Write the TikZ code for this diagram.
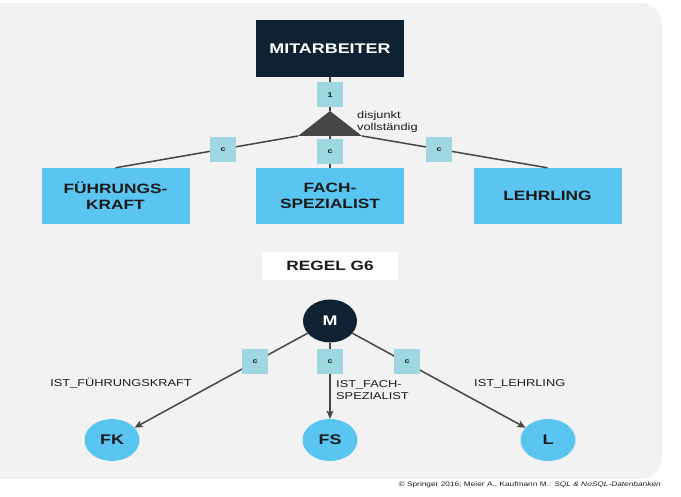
\documentclass[tikz,border=0pt]{standalone}
\usepackage{fontspec}
\setmainfont[FakeStretch=1.28]{Liberation Sans}
\usetikzlibrary{arrows.meta,shapes.geometric}
\definecolor{navy}{HTML}{0F2233}
\definecolor{skyblue}{HTML}{5BC5F2}
\definecolor{tealbox}{HTML}{9ED6E2}
\definecolor{panelgray}{HTML}{F2F2F2}
\definecolor{edge}{HTML}{454545}
\definecolor{ink}{HTML}{1A1A1A}
\tikzset{
  entity/.style={fill=skyblue,minimum width=148pt,minimum height=56pt,inner sep=0pt,align=center,font=\fontsize{13.5}{16}\selectfont\bfseries,text=ink},
  card/.style={fill=tealbox,minimum width=26pt,minimum height=25pt,inner sep=0pt,font=\fontsize{7}{9}\selectfont\bfseries,text=ink},
  tabnode/.style={ellipse,fill=skyblue,minimum width=55pt,minimum height=42pt,inner sep=0pt,font=\fontsize{14}{16}\selectfont\bfseries,text=ink},
  link/.style={edge,line width=1.5pt},
  linkarrow/.style={link,-{Stealth[length=8pt,width=7pt,inset=1.5pt]}},
  rolelabel/.style={font=\fontsize{10}{12}\selectfont,text=ink,inner sep=0pt,align=left}
}
\begin{document}
\begin{tikzpicture}[x=1pt,y=-1pt]
\useasboundingbox (0,0) rectangle (681,497);
\begin{scope}
\clip (0,0) rectangle (681,497);
\fill[panelgray,rounded corners=22pt] (-30,3) rectangle (662,479);
\end{scope}
% generalisation
\node[fill=navy,minimum width=148pt,minimum height=57pt,inner sep=0pt,text=white,font=\fontsize{14}{16}\selectfont\bfseries] (MA) at (330,48.5) {MITARBEITER};
\node[entity] (fuehrung) at (115.5,196) {FÜHRUNGS-\\KRAFT};
\node[entity] (fach) at (330,196) {FACH-\\SPEZIALIST};
\node[entity] (lehrling) at (547.5,196) {LEHRLING};
\coordinate (apex) at (330,111);
\coordinate (tl) at (298,136);
\coordinate (tm) at (330,136);
\coordinate (tr) at (362,136);
\draw[link] (MA) -- (apex);
\fill[edge] (apex) -- (tr) -- (tl) -- cycle;
\draw[link] (tl) -- (fuehrung.north);
\draw[link] (tm) -- (fach);
\draw[link] (tr) -- (lehrling.north);
\node[card] (c1) at (330,95) {1};
\node[card] (ca) at (223,150) {c};
\node[card] (cb) at (330,152) {c};
\node[card] (cc) at (439,150) {c};
\node[rolelabel,anchor=north west] (disj) at (357,111) {disjunkt\\vollständig};
% rule G6
\node[fill=white,minimum width=136pt,minimum height=28pt,inner sep=0pt,font=\fontsize{13.5}{16}\selectfont\bfseries,text=ink] (regel) at (330,266) {REGEL G6};
\node[ellipse,fill=navy,minimum width=54pt,minimum height=43pt,inner sep=0pt,text=white,font=\fontsize{14}{16}\selectfont\bfseries] (tabM) at (330,321) {M};
\node[tabnode] (tabFK) at (112,440) {FK};
\node[tabnode] (tabFS) at (330,440) {FS};
\node[tabnode] (tabL) at (548,440) {L};
\draw[linkarrow] (tabM) -- (tabFK);
\draw[linkarrow] (tabM) -- (tabFS);
\draw[linkarrow] (tabM) -- (tabL);
\node[card] (cFK) at (255,362) {c};
\node[card] (cFS) at (330,362) {c};
\node[card] (cL) at (407,362) {c};
\node[rolelabel,anchor=base east] (istFK) at (192,387) {IST\_FÜHRUNGSKRAFT};
\node[rolelabel,anchor=north west] (istFS) at (336,380) {IST\_FACH-\\SPEZIALIST};
\node[rolelabel,anchor=base west] (istL) at (474,387) {IST\_LEHRLING};
\node[anchor=base east,inner sep=0pt,font=\fontsize{6.5}{8}\selectfont,text=ink] (quelle) at (661,486) {© Springer 2016; Meier A., Kaufmann M.: \textit{SQL \& NoSQL-Datenbanken}};
\end{tikzpicture}
\end{document}
